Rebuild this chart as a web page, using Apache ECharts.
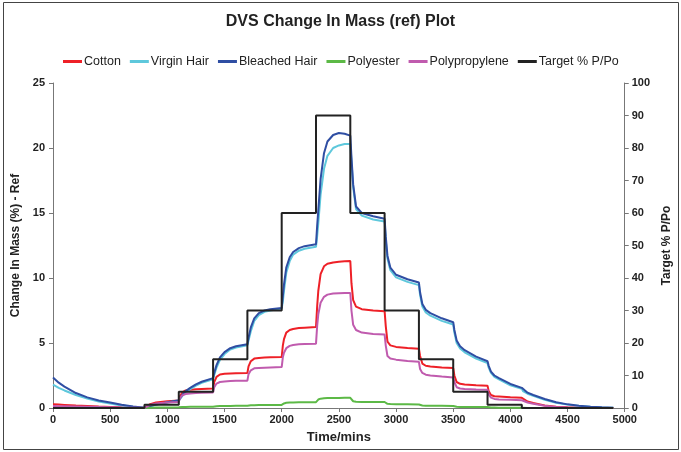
<!DOCTYPE html>
<html>
<head>
<meta charset="utf-8">
<script src="https://cdn.jsdelivr.net/npm/echarts@6/dist/echarts.min.js"></script>
<style>
  html, body { margin: 0; padding: 0; background: #fff; }
  #chart { width: 681px; height: 452px; }
</style>
</head>
<body>
<div id="chart"></div>
<script>
// sample times (mins), shared by the mass series
var times = [0,50,100,200,300,400,500,600,700,800,
  810,850,900,1000,1100,
  1110,1130,1160,1200,1250,1300,1400,
  1410,1430,1460,1500,1550,1600,1700,
  1710,1730,1760,1800,1850,1900,2000,
  2010,2020,2040,2070,2100,2150,2200,2300,
  2310,2320,2340,2370,2400,2450,2500,2550,2600,
  2610,2625,2650,2700,2800,2900,
  2910,2925,2950,3000,3100,3200,
  3210,3230,3260,3300,3400,3500,
  3510,3530,3560,3600,3700,3800,
  3810,3830,3860,3900,4000,4100,
  4110,4150,4200,4300,4400,4500,4600,4700,4800,4900];

var cotton = [0.28,0.26,0.24,0.19,0.15,0.11,0.08,0.05,0.03,0.01,
  0.08,0.3,0.42,0.52,0.58,
  0.9,1.2,1.35,1.4,1.44,1.46,1.5,
  2.0,2.4,2.58,2.63,2.66,2.68,2.7,
  3.2,3.6,3.8,3.85,3.88,3.9,3.92,
  4.8,5.3,5.8,6.0,6.08,6.15,6.18,6.23,
  7.8,9.0,10.3,10.9,11.1,11.2,11.25,11.28,11.3,
  9.6,8.3,7.8,7.6,7.5,7.45,
  6.3,5.1,4.82,4.7,4.62,4.56,
  4.0,3.42,3.25,3.2,3.12,3.07,
  2.5,2.0,1.86,1.8,1.75,1.72,
  1.3,1.0,0.9,0.88,0.82,0.78,
  0.7,0.5,0.38,0.2,0.1,0.05,0.02,0,0,0];

var virginHair = [1.8,1.55,1.35,1.0,0.72,0.5,0.34,0.2,0.09,0.02,
  0.04,0.13,0.25,0.42,0.56,
  0.7,0.92,1.2,1.45,1.72,1.93,2.2,
  2.55,3.1,3.7,4.15,4.5,4.65,4.82,
  5.2,5.9,6.7,7.15,7.4,7.5,7.65,
  8.2,9.0,10.4,11.3,11.8,12.1,12.25,12.4,
  13.2,14.2,16.4,18.4,19.4,20.0,20.2,20.3,20.3,
  19.0,17.0,15.3,14.8,14.5,14.35,
  12.9,11.5,10.6,10.05,9.7,9.45,
  8.7,7.8,7.35,7.1,6.7,6.42,
  5.8,5.0,4.58,4.28,3.8,3.45,
  3.1,2.7,2.4,2.2,1.75,1.47,
  1.3,1.1,0.93,0.64,0.41,0.26,0.16,0.09,0.04,0.02];

var bleachedHair = [2.35,1.95,1.65,1.15,0.82,0.58,0.42,0.25,0.12,0.02,
  0.05,0.15,0.27,0.45,0.6,
  0.75,1.0,1.3,1.55,1.82,2.02,2.3,
  2.7,3.3,3.9,4.3,4.6,4.75,4.9,
  5.4,6.2,6.9,7.3,7.5,7.6,7.7,
  8.6,9.5,10.8,11.6,12.0,12.3,12.45,12.6,
  14.0,15.2,17.6,19.6,20.5,21.0,21.15,21.1,20.95,
  19.3,17.2,15.5,15.0,14.75,14.55,
  13.2,11.7,10.8,10.25,9.9,9.65,
  8.9,8.0,7.55,7.3,6.9,6.6,
  6.0,5.2,4.75,4.45,3.95,3.6,
  3.25,2.8,2.5,2.3,1.85,1.55,
  1.4,1.18,1.0,0.69,0.44,0.28,0.18,0.1,0.05,0.02];

var polyester = [0,0,0,0,0,0,0,0,0,0,
  0.01,0.02,0.03,0.04,0.05,
  0.06,0.07,0.08,0.09,0.09,0.1,0.1,
  0.12,0.14,0.15,0.16,0.16,0.17,0.17,
  0.19,0.21,0.22,0.23,0.23,0.24,0.24,
  0.3,0.35,0.4,0.42,0.43,0.44,0.44,0.45,
  0.55,0.65,0.72,0.75,0.76,0.77,0.77,0.78,0.78,
  0.65,0.52,0.48,0.47,0.46,0.46,
  0.38,0.32,0.3,0.29,0.28,0.27,
  0.22,0.19,0.18,0.18,0.17,0.16,
  0.12,0.09,0.08,0.08,0.07,0.07,
  0.05,0.03,0.03,0.02,0.02,0.02,
  0.01,0,0,0,0,0,0,0,0,0];

var polypropylene = [0.15,0.14,0.13,0.11,0.09,0.07,0.05,0.03,0.02,0.01,
  0.06,0.24,0.35,0.43,0.47,
  0.75,0.97,1.08,1.12,1.15,1.17,1.2,
  1.6,1.88,2.0,2.04,2.07,2.09,2.1,
  2.6,2.9,3.05,3.08,3.1,3.12,3.15,
  3.9,4.25,4.6,4.78,4.85,4.9,4.92,4.95,
  6.3,7.2,8.1,8.55,8.72,8.8,8.83,8.85,8.85,
  7.5,6.4,6.0,5.8,5.7,5.65,
  4.8,4.0,3.8,3.72,3.62,3.55,
  3.0,2.7,2.56,2.5,2.42,2.35,
  2.0,1.6,1.5,1.47,1.43,1.4,
  1.05,0.8,0.7,0.66,0.63,0.6,
  0.55,0.42,0.32,0.17,0.08,0.04,0.01,0,0,0];

// target humidity steps
var targetTimes = [0,800,1100,1400,1700,2000,2300,2600,2900,3200,3500,3800,4100,4900];
var targetLevels = [0,1,5,15,30,60,90,60,30,15,5,1,0,0];

var xTicks = [0, 5000, 500];
var leftTicks = [0, 25, 5];
var rightTicks = [0, 100, 10];

function pairs(xs, ys) {
  return xs.map(function (x, i) { return [x, ys[i]]; });
}

var font = "'Liberation Sans', Arial, sans-serif";
var plain = function (v) { return String(v); };

function massLine(name, color, vals) {
  return {
    name: name,
    type: "line",
    data: pairs(times, vals),
    showSymbol: false,
    lineStyle: { color: color, width: 2 },
    itemStyle: { color: color }
  };
}

var chart = echarts.init(document.getElementById("chart"));
chart.setOption({
  animation: false,
  backgroundColor: "#fff",
  textStyle: { fontFamily: font },
  title: {
    text: "DVS Change In Mass (ref) Plot",
    left: "center",
    top: 9,
    textStyle: { fontSize: 16, fontWeight: "bold", color: "#222", fontFamily: font }
  },
  legend: {
    top: 50,
    left: 58,
    icon: "rect",
    itemWidth: 19,
    itemHeight: 3,
    itemGap: 9,
    textStyle: { fontSize: 12.5, color: "#222", fontFamily: font, padding: [0, 0, 0, -3] },
    data: ["Cotton", "Virgin Hair", "Bleached Hair", "Polyester", "Polypropylene", "Target % P/Po"]
  },
  grid: { left: 53, right: 53, top: 83, bottom: 44 },
  graphic: [{
    type: "rect",
    silent: true,
    shape: { x: 3.5, y: 2.5, width: 675, height: 447 },
    style: { fill: "none", stroke: "#444", lineWidth: 1 }
  }],
  xAxis: {
    type: "value",
    min: xTicks[0], max: xTicks[1], interval: xTicks[2],
    name: "Time/mins",
    nameLocation: "middle",
    nameGap: 23,
    nameTextStyle: { fontSize: 13, fontWeight: "bold", color: "#222" },
    axisLine: { lineStyle: { color: "#777", width: 1 } },
    axisTick: { lineStyle: { color: "#777" }, length: 4 },
    axisLabel: { fontSize: 11, fontWeight: "bold", color: "#222", margin: 6, formatter: plain },
    splitLine: { show: false }
  },
  yAxis: [{
    type: "value",
    min: leftTicks[0], max: leftTicks[1], interval: leftTicks[2],
    name: "Change In Mass (%) - Ref",
    nameLocation: "middle",
    nameGap: 31,
    nameMoveOverlap: false,
    nameTextStyle: { fontSize: 12, fontWeight: "bold", color: "#222" },
    axisLine: { show: true, lineStyle: { color: "#777", width: 1 } },
    axisTick: { show: true, lineStyle: { color: "#777" }, length: 4 },
    axisLabel: { fontSize: 11, fontWeight: "bold", color: "#222", margin: 8, formatter: plain },
    splitLine: { show: false }
  }, {
    type: "value",
    position: "right",
    min: rightTicks[0], max: rightTicks[1], interval: rightTicks[2],
    name: "Target % P/Po",
    nameLocation: "middle",
    nameGap: 36,
    nameRotate: 90,
    nameTextStyle: { fontSize: 12, fontWeight: "bold", color: "#222" },
    axisLine: { show: true, lineStyle: { color: "#777", width: 1 } },
    axisTick: { show: true, lineStyle: { color: "#777" }, length: 4 },
    axisLabel: { fontSize: 11, fontWeight: "bold", color: "#222", margin: 7, formatter: plain },
    splitLine: { show: false }
  }],
  series: [
    massLine("Cotton", "#ee2027", cotton),
    massLine("Virgin Hair", "#5ec8dc", virginHair),
    massLine("Bleached Hair", "#2f4ea3", bleachedHair),
    massLine("Polyester", "#5cb946", polyester),
    massLine("Polypropylene", "#c05bae", polypropylene),
    {
      name: "Target % P/Po",
      type: "line",
      yAxisIndex: 1,
      step: "end",
      data: pairs(targetTimes, targetLevels),
      showSymbol: false,
      lineStyle: { color: "#222", width: 2 },
      itemStyle: { color: "#222" }
    }
  ]
});
</script>
</body>
</html>
